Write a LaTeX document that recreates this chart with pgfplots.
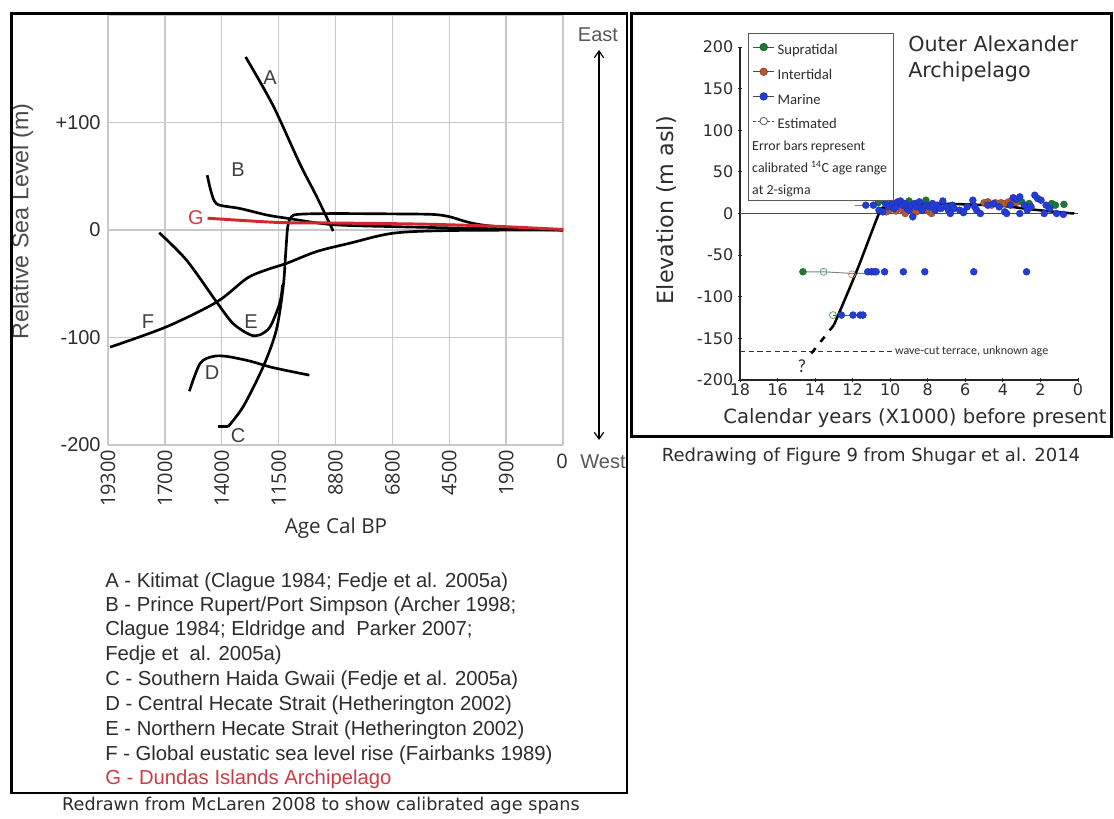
\documentclass[border=0pt]{standalone}
\usepackage{fontspec}
\setmainfont{Liberation Sans}
\newfontfamily\opensans{Open Sans}
\newfontfamily\dejavu{DejaVu Sans}
\newfontfamily\carlito{Carlito}
\usepackage{pgfplots}
\pgfplotsset{compat=1.18}
\usetikzlibrary{arrows.meta}
\definecolor{dgred}{RGB}{212,38,44}
\definecolor{lblred}{RGB}{205,60,70}
\definecolor{supra}{RGB}{30,120,60}
\definecolor{inter}{RGB}{175,90,50}
\definecolor{marine}{RGB}{35,60,215}
\definecolor{gridc}{RGB}{200,200,200}
\definecolor{txt}{RGB}{45,45,45}
\newcommand\bigstrut{\rule[-6pt]{0pt}{19pt}}
\newcommand\smallstrut{\rule[-4pt]{0pt}{15pt}}
\newcommand\legsmall{\fontsize{10.4}{12}\selectfont}
\begin{document}
\begin{tikzpicture}
\begin{scope}[x=0.75pt,y=-0.75pt]
\useasboundingbox (0,0) rectangle (1114,815);
\fill[white] (0,0) rectangle (1114,815);
\end{scope}
% ---------------- left chart ----------------
\begin{axis}[
  at={(81pt,-333.75pt)}, anchor=south west,
  scale only axis, width=341.25pt, height=322.5pt,
  xmin=0, xmax=8, ymin=-200, ymax=200,
  axis line style={draw=none},
  xtick={0,1,2,3,4,5,6,7,8}, ytick={-200,-100,0,100,200},
  xticklabels={19300,17000,14000,11500,8800,6800,4500,1900,{}},
  yticklabels={-200,-100,0,+100,{}},
  grid=major, major grid style={draw=gridc, line width=1.1pt},
  tick style={draw=none},
  xticklabel style={rotate=90, anchor=east, font=\opensans\fontsize{15}{15}\selectfont, text=txt},
  yticklabel style={font=\fontsize{15}{15}\selectfont, text=txt, xshift=-2pt},
  xlabel={Age Cal BP}, ylabel={Relative Sea Level (m)},
  xlabel style={at={(axis description cs:0.501,-0.193)}, anchor=center, font=\opensans\fontsize{15.5}{16}\selectfont, text=txt},
  ylabel style={at={(axis description cs:-0.188,0.52)}, anchor=center, font=\fontsize{17.5}{17.5}\selectfont, text=black!70},
  clip=false,
  every axis plot/.append style={line width=2pt, black},
]
% A
\addplot[smooth] coordinates {(2.42,161) (2.9,116) (3.37,62) (3.67,31) (3.96,-1)};
% B
\addplot[smooth] coordinates {(1.745,51) (1.80,38) (1.87,27) (1.97,23) (2.32,20) (2.79,14) (3.14,11) (3.95,5) (5.13,3) (6.5,1.5) (8,0)};
% C
\addplot[sharp plot] coordinates {(1.94,-183) (2.11,-183)};
\addplot[smooth] coordinates {(2.11,-183) (2.38,-164) (2.73,-127) (2.96,-93) (3.08,-53) (3.12,-25) (3.16,3) (3.22,12) (3.35,14.6) (3.95,15.3) (5.0,15) (5.71,14.5) (6.01,12.3) (6.3,7.7) (6.59,4.6) (7.18,1.6) (8,0)};
% D
\addplot[smooth] coordinates {(1.43,-150) (1.62,-124) (1.85,-117.6) (2.09,-117.6) (2.5,-122) (2.9,-128) (3.54,-135)};
% E
\addplot[smooth] coordinates {(0.9,-2.5) (1.38,-28) (1.91,-67) (2.2,-87) (2.5,-97.5) (2.67,-97.5) (2.85,-90) (3.02,-68) (3.07,-51)};
% F
\addplot[smooth] coordinates {(0.035,-109) (1.03,-90) (1.91,-67) (2.44,-45) (2.79,-37) (3.14,-31) (3.67,-20) (4.25,-12.3) (5.01,-3) (6.0,-0.5) (8,0)};
% G
\addplot[smooth, dgred, line width=2.2pt] coordinates {(1.75,11) (3.0,7) (4.0,6.5) (5.5,5.5) (6.8,3.5) (8,0.5)};
\end{axis}
% ---------------- right chart ----------------
\begin{axis}[
  at={(555pt,-285pt)}, anchor=south west,
  scale only axis, width=253.5pt, height=249.75pt,
  xmin=0, xmax=18, x dir=reverse, ymin=-200, ymax=200,
  axis lines=left, axis line style={-, line width=0.8pt, black!85},
  xtick={0,2,4,6,8,10,12,14,16,18}, ytick={-200,-150,-100,-50,0,50,100,150,200},
  tick style={black!85, line width=0.6pt}, major tick length=3pt, tick align=center,
  /pgf/number format/assume math mode=true,
  ticklabel style={font=\dejavu\fontsize{12}{12}\selectfont, text=txt},
  xticklabel style={yshift=2pt},
  xlabel={Calendar years (X1000) before present}, ylabel={Elevation (m asl)},
  xlabel style={at={(axis description cs:0.518,-0.114)}, anchor=center, font=\dejavu\fontsize{14.7}{15}\selectfont, text=txt},
  ylabel style={at={(axis description cs:-0.216,0.51)}, anchor=center, font=\dejavu\fontsize{16.7}{17}\selectfont, text=txt},
  clip=false,
  legend style={at={(axis description cs:0.024,1.042)}, anchor=north west, draw=gray!70!black, line width=0.6pt,
    font=\carlito\fontsize{11}{12}\selectfont, text=txt, row sep=0pt, inner xsep=3pt, inner ysep=1pt,
    /tikz/every even column/.append style={column sep=2pt}},
  legend cell align=left,
]
% zero line
\addplot[forget plot, black!70, line width=0.6pt] coordinates {(18,0) (0,0)};
% wave-cut terrace
\addplot[forget plot, black!80, line width=0.9pt, dash pattern=on 4pt off 2.5pt] coordinates {(18,-166) (9.9,-166)};
% error bars
\addplot[forget plot, gray, line width=0.7pt] coordinates {(14.65,-70) (13.55,-70) (12.04,-72) (11.3,-72)};
\addplot[forget plot, marine!70!gray, line width=0.7pt] coordinates {(13.05,-122) (11.27,-122)};
\addplot[forget plot, gray, line width=0.6pt] coordinates {(11.9,10) (10.6,10)};
\addplot[forget plot, gray, line width=0.6pt] coordinates {(10.4,4) (8.0,4)};
\addplot[forget plot, gray, line width=0.6pt] coordinates {(5.2,12) (3.0,12)};
% supratidal
\addplot[only marks, mark=*, mark size=2.6pt, mark options={fill=supra, draw=supra!80!black, line width=0.3pt},
  legend image code/.code={\draw[gray!60!black, line width=0.8pt] (0pt,0pt) -- (16pt,0pt); \draw[fill=supra, draw=supra!80!black] (8pt,0pt) circle (2.8pt);}]
  coordinates {(10.65,13) (10.3,14) (9.0,15) (8.1,16) (6.1,1) (3.0,14) (2.6,12) (1.4,12) (1.2,10) (0.75,11) (14.65,-70)};
\addlegendentry{\bigstrut Supratidal}
% intertidal
\addplot[only marks, mark=*, mark size=2.6pt, mark options={fill=inter, draw=inter!80!black, line width=0.3pt},
  legend image code/.code={\draw[gray!60!black, line width=0.8pt] (0pt,0pt) -- (16pt,0pt); \draw[fill=inter, draw=inter!80!black] (8pt,0pt) circle (2.8pt);}]
  coordinates {(10.2,2) (10.0,5) (9.7,3) (9.4,5) (9.2,0) (8.9,3) (8.6,2) (8.3,6) (8.1,4) (7.9,2) (7.8,0) (5.0,13) (4.8,14) (4.6,10) (4.4,13) (4.1,13) (3.9,12) (3.7,14) (3.5,16) (3.3,13)};
\addlegendentry{\bigstrut Intertidal}
% marine
\addplot[only marks, mark=*, mark size=2.6pt, mark options={fill=marine, draw=marine!80!black, line width=0.3pt},
  legend image code/.code={\draw[gray!60!black, line width=0.8pt] (0pt,0pt) -- (16pt,0pt); \draw[fill=marine, draw=marine!80!black] (8pt,0pt) circle (2.8pt);}]
  coordinates {(11.3,10) (10.9,10) (10.6,4) (10.4,2) (10.25,12) (10.1,8) (9.9,13) (9.8,6) (9.7,8) (9.6,14) (9.45,15) (9.35,10) (9.2,12) (9.1,6) (9.0,4) (8.9,9) (8.8,-4) (8.7,12) (8.6,8) (8.45,14) (8.35,6) (8.3,4) (8.1,10) (7.9,8) (7.75,12) (7.6,4) (7.5,10) (7.3,6) (7.2,15) (7.0,8) (6.9,4) (6.8,0) (6.7,10) (6.6,6) (6.3,4) (6.1,2) (5.9,8) (5.6,16) (5.5,8) (5.4,4) (5.2,0) (4.8,10) (4.5,12) (4.2,8) (3.9,2) (3.8,0) (3.6,10) (3.45,19) (3.3,17) (3.1,20) (3.1,0) (2.85,10) (2.7,4) (2.5,8) (2.3,22) (2.15,18) (1.97,16) (1.7,10) (1.8,0) (1.5,6) (1.14,0) (0.78,-1)
  (11.2,-70) (11.0,-70) (10.85,-70) (10.75,-70) (10.3,-70) (9.3,-70) (8.16,-70) (5.55,-70) (2.74,-70)
  (12.6,-122) (11.98,-122) (11.6,-122) (11.45,-122)};
\addlegendentry{\bigstrut Marine}
% estimated
\addplot[only marks, mark=o, mark size=2.6pt, mark options={draw=supra!70, fill=white, line width=0.6pt},
  legend image code/.code={\draw[gray!60!black, line width=0.8pt, dash pattern=on 2pt off 1.5pt] (0pt,0pt) -- (16pt,0pt); \draw[fill=white, draw=gray!70!black] (8pt,0pt) circle (2.8pt);}]
  coordinates {(13.55,-70) (13.05,-122)};
\addlegendentry{\bigstrut Estimated}
\addplot[forget plot, only marks, mark=o, mark size=2.6pt, mark options={draw=inter!70, fill=white, line width=0.6pt}]
  coordinates {(12.04,-73)};
\addlegendimage{empty legend}\addlegendentry{\hspace{-19pt}\smallstrut\legsmall Error bars represent}
\addlegendimage{empty legend}\addlegendentry{\hspace{-19pt}\smallstrut\legsmall calibrated \textsuperscript{14}C age range}
\addlegendimage{empty legend}\addlegendentry{\hspace{-19pt}\smallstrut\legsmall at 2-sigma}
% trend line
\addplot[forget plot, black, line width=1.9pt, smooth] coordinates {(13.0,-134) (11.8,-70) (10.6,0) (10.3,7) (9.8,10) (9.0,11.5) (8,12) (6,11) (4,9) (2.5,5) (1,1.5) (0.2,0)};
\addplot[forget plot, black, line width=1.9pt, dash pattern=on 5pt off 6pt] coordinates {(14.2,-168) (13.0,-134)};
\node[anchor=west, font=\carlito\fontsize{9}{9}\selectfont, text=txt, inner sep=0pt] at (axis cs:9.75,-166) {wave-cut terrace, unknown age};
\node[font=\carlito\fontsize{14}{14}\selectfont, text=txt] at (axis cs:14.7,-183) {?};
\end{axis}
% ---------------- texts and frames ----------------
\begin{scope}[x=0.75pt,y=-0.75pt]
\draw[line width=2.2pt] (11.5,13.5) rectangle (627,793);
\draw[line width=2.2pt] (631.5,13.5) rectangle (1111.5,436.5);
% curve labels
\begin{scope}[every node/.style={font=\fontsize{15}{15}\selectfont, text=black!75, inner sep=0pt}]
\node at (270,78) {A};
\node at (238,170) {B};
\node[text=lblred] at (196,218) {G};
\node at (251,322) {E};
\node at (148,322) {F};
\node at (212,373) {D};
\node at (238,436) {C};
\end{scope}
\node[font=\opensans\fontsize{15}{15}\selectfont, text=txt] at (562,461) {0};
\node[font=\fontsize{15}{15}\selectfont, text=black!65] at (603,462) {West};
\node[font=\fontsize{15}{15}\selectfont, text=black!65] at (598,35) {East};
\draw[line width=0.9pt, {Straight Barb[length=5pt,width=7pt]}-{Straight Barb[length=5pt,width=7pt]}] (599,50) -- (599,440);
% legend text
\begin{scope}[every node/.style={anchor=west, font=\fontsize{15.2}{15.5}\selectfont, text=txt, inner sep=0pt}]
\node at (105,582) {A - Kitimat (Clague 1984; Fedje et al. 2005a)};
\node at (105,606) {B - Prince Rupert/Port Simpson (Archer 1998;};
\node at (105,630) {Clague 1984; Eldridge and\ \ Parker 2007;};
\node at (105,655) {Fedje et\ \ al. 2005a)};
\node at (105,680) {C - Southern Haida Gwaii (Fedje et al. 2005a)};
\node at (105,705) {D - Central Hecate Strait (Hetherington 2002)};
\node at (105,730) {E - Northern Hecate Strait (Hetherington 2002)};
\node at (105,755) {F - Global eustatic sea level rise (Fairbanks 1989)};
\node[text=lblred] at (105,779) {G - Dundas Islands Archipelago};
\end{scope}
\node[font=\dejavu\fontsize{13.2}{13.2}\selectfont, text=txt] at (321,806) {Redrawn from McLaren 2008 to show calibrated age spans};
\node[font=\dejavu\fontsize{13.5}{13.5}\selectfont, text=txt] at (871,457) {Redrawing of Figure 9 from Shugar et al. 2014};
\node[anchor=west, font=\dejavu\fontsize{15.5}{16}\selectfont, text=txt, inner sep=0pt] at (908,44) {Outer Alexander};
\node[anchor=west, font=\dejavu\fontsize{15.5}{16}\selectfont, text=txt, inner sep=0pt] at (908,72) {Archipelago};
\end{scope}
\end{tikzpicture}
\end{document}
